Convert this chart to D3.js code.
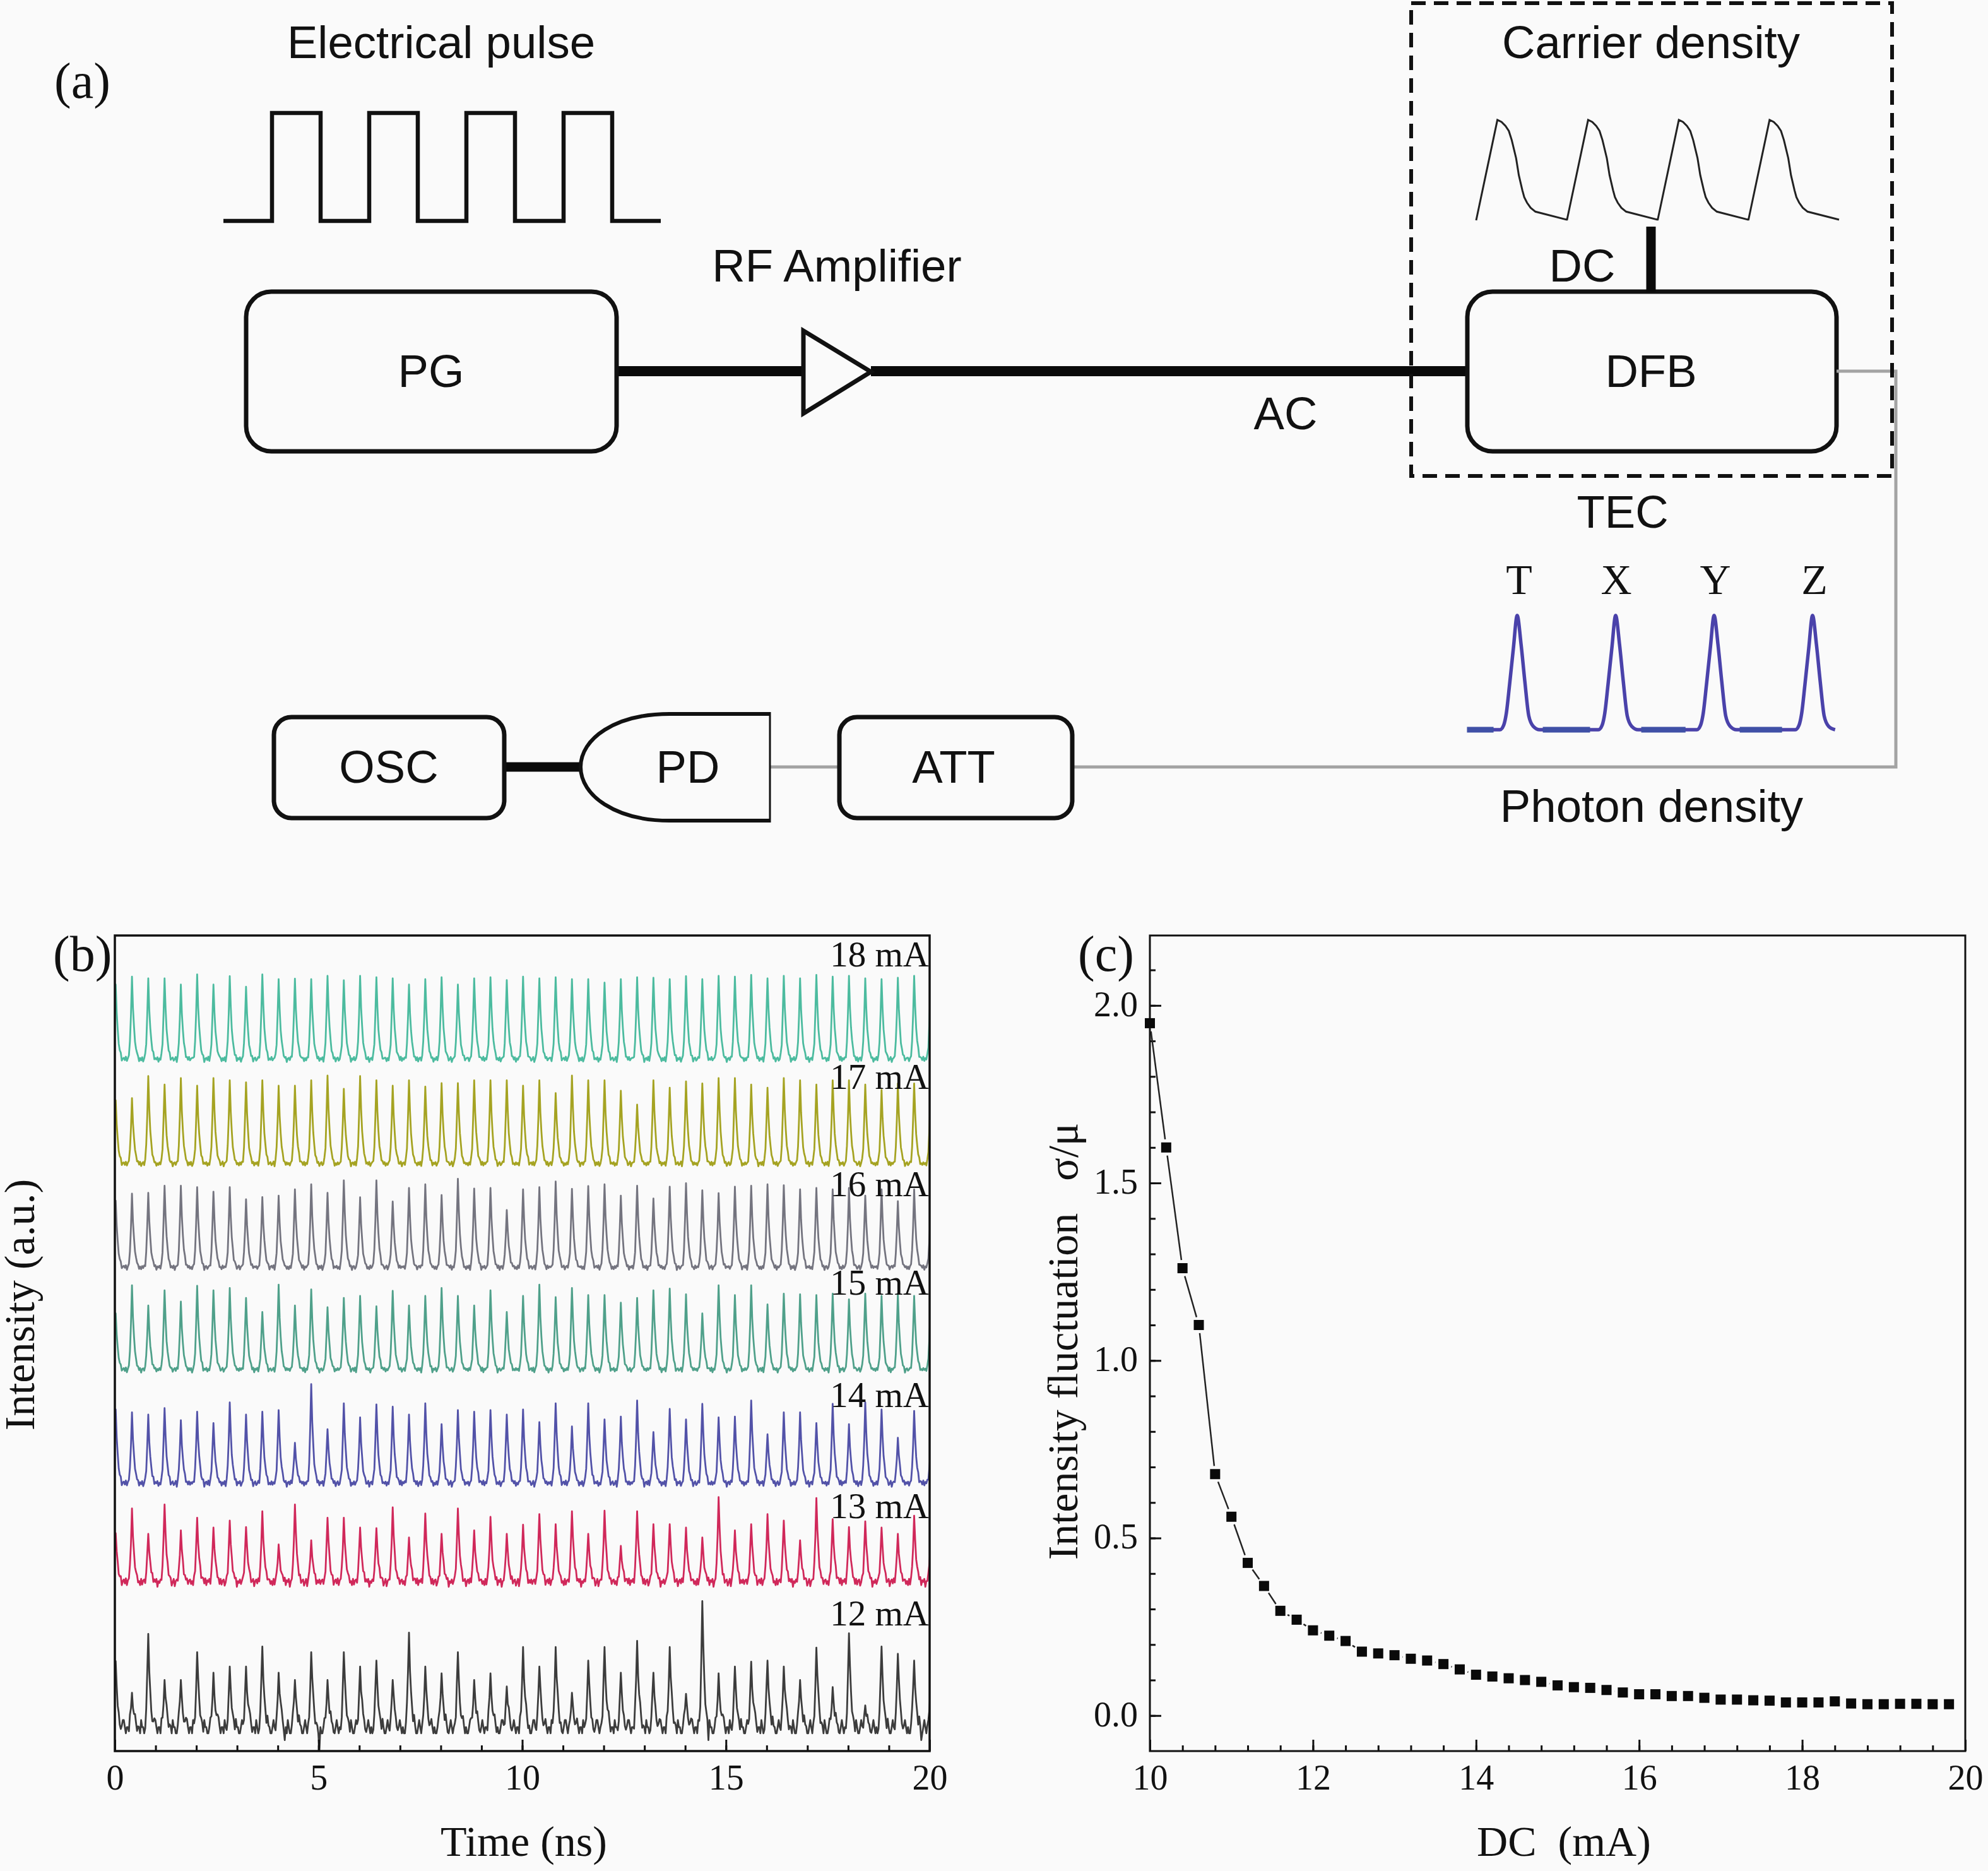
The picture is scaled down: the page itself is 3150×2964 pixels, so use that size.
<!DOCTYPE html>
<html><head><meta charset="utf-8">
<script src="https://cdn.jsdelivr.net/npm/d3@7"></script>
<style>
html,body{margin:0;padding:0;background:#fafafa}
svg{display:block}
.sans{font-family:"Liberation Sans",Arial,sans-serif;font-size:72.6px;fill:#111}
.serif{font-family:"Liberation Serif","Times New Roman",serif;fill:#111}
</style></head><body>
<script>
// ---------- panel (b): pulse peak heights above each trace's baseline (a.u.)
const peaks18=[263,291,285,285,263,299,263,293,255,299,282,284,282,294,278,294,289,285,263,282,289,263,285,289,279,291,285,289,282,282,270,282,289,287,282,293,282,294,291,297,285,294,285,297,291,294,285,282,287,294,240];
const peaks17=[224,232,310,280,303,276,303,295,288,295,276,276,295,312,265,310,295,276,295,273,285,285,295,295,295,276,295,250,312,295,295,258,209,295,269,291,284,303,303,280,269,303,295,280,295,295,280,261,284,284,220];
const peaks16=[235,260,263,288,288,283,267,283,240,248,253,275,293,263,307,247,307,232,280,293,255,313,278,280,202,275,283,303,277,287,293,253,288,243,285,297,272,262,285,288,293,290,275,280,275,280,253,275,233,275,175];
const peaks15=[198,298,226,280,240,296,280,288,253,203,300,226,283,220,253,260,223,278,226,260,288,260,226,280,203,260,300,256,288,263,263,236,253,280,286,266,198,298,263,298,230,268,266,263,268,248,268,260,268,260,200];
const peaks14=[260,250,242,265,222,252,212,285,242,252,258,142,350,190,282,232,278,270,242,282,208,258,252,258,242,260,215,282,200,282,225,235,292,180,262,225,280,232,235,292,172,250,250,212,280,208,285,260,160,255,100];
const peaks13=[170,258,168,272,180,225,190,215,192,248,130,272,145,225,225,190,188,262,155,240,168,258,180,228,168,200,238,202,248,168,250,125,248,202,202,190,155,298,180,202,238,215,145,295,220,192,212,190,168,232,120];
const peaks12=[234,122,331,167,167,266,193,215,215,286,193,167,266,167,266,215,236,167,335,215,191,266,167,191,144,284,215,284,122,236,284,193,306,193,284,118,447,191,215,232,236,215,167,282,142,333,77,286,260,236,130];
// baseline offsets of the stacked traces (a.u.)
const traceBase=[2457,2085,1718,1355,952,603,85];
const traceNames=["18 mA","17 mA","16 mA","15 mA","14 mA","13 mA","12 mA"];
const traceColors=["#4cbb9f","#a5a322","#74747f","#4fa08a","#5252a8","#d0285a","#3c3c3c"];
const labelBaselines=[1531,1725,1895,2051,2229,2405,2575];
// shape of one pulse on the 0.025 ns grid
const pulseOffsets=[-0.125,-0.1,-0.075,-0.05,-0.025,0,0.025,0.05,0.075,0.1,0.125,0.15,0.175,0.2,0.225,0.25];
const pulseShape=[0,0,0.05,0.2,0.55,1,0.62,0.38,0.22,0.12,0.06,0.02,0,0,0,0];
// baseline ripple (a.u.)
const ripple18=[3,-9,2,-6,5,-10,1,4,-7,-2,6,-12,0,3,-5,7,-8,2,-3,5,-11,1,-4,6,-6,0,3];
const ripple17=[2,-7,4,-4,6,-9,0,5,-6,-1,7,-10,2,4,-5,6,-7,3,-2,5,-8,1,-5,4,-3];
const ripple16=[1,-8,3,-4,5,-11,2,3,-7,0,5,-9,1,4,-3,6,-10,2,-2,4,-6,0,-8,5,-4,2,-1,3,-7];
const ripple15=[2,-6,4,-3,4,-12,1,3,-5,-1,5,-9,0,4,-6,6,-11,2,-2,5,-8,1,-4,4,-3];
const ripple14=[4,-10,2,-5,6,-12,0,5,-8,-3,7,-14,1,4,-6,8,-9,3,-2,6,-11,0,-6,5,-7,2,-3];
const ripple13=[6,-10,0,-14,8,-12,2,6,-16,-4,8,-18,0,6,-8,10,-14,3,-3,8,-20,0,-6,6,-10,2];
const ripple12=[0,0,-22,-22,0,25,0,-22,0,-22,-22,0,25,25,0,-22,0,0,-22,25,0,-22,-22,0,25,0,-22,0,0,-22,25];
const dips12T=[4.18,5.02,14.57,19.8];
const dips12V=[-46,-84,-46,-46];

// ---------- panel (c)
const dcValues=[10,10.2,10.4,10.6,10.8,11,11.2,11.4,11.6,11.8,12,12.2,12.4,12.6,12.8,13,13.2,13.4,13.6,13.8,14,14.2,14.4,14.6,14.8,15,15.2,15.4,15.6,15.8,16,16.2,16.4,16.6,16.8,17,17.2,17.4,17.6,17.8,18,18.2,18.4,18.6,18.8,19,19.2,19.4,19.6,19.8];
const fluctuation=[1.95,1.60,1.26,1.10,0.68,0.56,0.43,0.365,0.295,0.27,0.24,0.225,0.21,0.18,0.175,0.17,0.16,0.155,0.145,0.13,0.115,0.11,0.105,0.1,0.095,0.085,0.08,0.078,0.072,0.065,0.06,0.06,0.055,0.055,0.05,0.045,0.045,0.043,0.042,0.037,0.037,0.037,0.04,0.034,0.032,0.032,0.033,0.033,0.032,0.032];

// ---------- panel (a) waveforms
const elecLevels=[0,1,0,1,0,1,0,1,0,0];
const carrierPhase=[0,0.234,0.28,0.323,0.36,0.392,0.44,0.47,0.509,0.53,0.56,0.6,0.653,1];
const carrierLevel=[0,1,0.98,0.94,0.89,0.80,0.62,0.45,0.30,0.23,0.176,0.125,0.086,0.006];
const photonPhase=[-0.5,-0.175,-0.137,-0.111,-0.078,-0.039,0,0.039,0.078,0.118,0.163,0.229,0.5];
const photonLevel=[0,0,0.04,0.14,0.39,0.71,1,0.75,0.42,0.12,0.03,0,0];
const photonLabels=["T","X","Y","Z"];

const W=3150,H=2964;
const svg=d3.select("body").append("svg").attr("width",W).attr("height",H).attr("viewBox",[0,0,W,H]);
svg.append("rect").attr("width",W).attr("height",H).attr("fill","#fafafa");

function sans(t,x,y){svg.append("text").attr("class","sans").attr("x",x).attr("y",y).attr("text-anchor","middle").text(t);}
function serif(t,x,y,size,anchor,rot){const s=svg.append("text").attr("class","serif").attr("font-size",size).attr("text-anchor",anchor||"middle").text(t);
  if(rot) s.attr("transform",`translate(${x},${y}) rotate(${rot})`); else s.attr("x",x).attr("y",y); return s;}
function box(x0,y0,x1,y1,r){svg.append("rect").attr("x",x0).attr("y",y0).attr("width",x1-x0).attr("height",y1-y0).attr("rx",r).attr("ry",r).attr("fill","none").attr("stroke","#111").attr("stroke-width",7);}
function wire(pts,w,c){svg.append("path").attr("d",d3.line()(pts)).attr("fill","none").attr("stroke",c).attr("stroke-width",w).attr("stroke-linejoin","miter");}

// ---- panel (a)
const ex=d3.scaleLinear().domain([0,9]).range([354,1047]);
const ey=d3.scaleLinear().domain([0,1]).range([350,179]);
svg.append("path").attr("d",d3.line().x((d,i)=>ex(i)).y(d=>ey(d)).curve(d3.curveStepAfter)(elecLevels))
  .attr("fill","none").attr("stroke","#111").attr("stroke-width",6.5);

wire([[977,588],[1275,588]],16,"#0a0a0a");
wire([[1380,588],[2325,588]],16,"#0a0a0a");
svg.append("path").attr("d","M1273,524L1380,589L1273,655Z").attr("fill","none").attr("stroke","#111").attr("stroke-width",7);
box(390,462,977,715,40);
box(2325,462,2910,715,40);
wire([[2616,359],[2616,462]],15,"#0a0a0a");
wire([[2910,588],[3004,588],[3004,1215],[1697,1215]],5,"#a3a3a3");
wire([[1220,1215],[1330,1215]],5,"#a3a3a3");
wire([[799,1215],[920,1215]],15,"#0a0a0a");
box(434,1136,799,1296,28);
box(1330,1136,1699,1296,28);
svg.append("path").attr("d","M1220,1131L1061,1131C975,1131 920,1170 920,1215C920,1260 975,1300 1061,1300L1220,1300")
  .attr("fill","none").attr("stroke","#111").attr("stroke-width",6);
wire([[1220,1128],[1220,1303]],3,"#111");
svg.append("rect").attr("x",2236).attr("y",5).attr("width",762).attr("height",749).attr("fill","none")
  .attr("stroke","#111").attr("stroke-width",6).attr("stroke-dasharray","23 13");

const cx=d3.scaleLinear().domain([0,4]).range([2339,2914]);
const cy=d3.scaleLinear().domain([0,1]).range([349,190]);
const carrierPts=[];
d3.range(4).forEach(p=>carrierPhase.forEach((ph,i)=>carrierPts.push([p+ph,carrierLevel[i]])));
svg.append("path").attr("d",d3.line().x(d=>cx(d[0])).y(d=>cy(d[1]))(carrierPts))
  .attr("fill","none").attr("stroke","#222").attr("stroke-width",3);

const px=d3.scaleLinear().domain([0,1]).range([2404,2560]);
const py=d3.scaleLinear().domain([0,1]).range([1156,975]);
const photonPts=[];
d3.range(4).forEach(p=>photonPhase.forEach((ph,i)=>{const t=p+ph; if(t<=3.229) photonPts.push([t,photonLevel[i]]);}));
svg.append("path").attr("d",d3.line().x(d=>px(d[0])).y(d=>py(d[1])).curve(d3.curveMonotoneX)(photonPts)).attr("fill","none").attr("stroke","#4a42aa").attr("stroke-width",5.5);
[[-0.51,-0.24],[0.26,0.74],[1.26,1.71],[2.26,2.69]].forEach(s=>
  svg.append("line").attr("x1",px(s[0])).attr("x2",px(s[1])).attr("y1",py(0)).attr("y2",py(0)).attr("stroke","#3f50a6").attr("stroke-width",9));

sans("Electrical pulse",699,92);
sans("RF Amplifier",1326,446);
sans("PG",683,613);
sans("AC",2037,680);
sans("DC",2507,446);
sans("DFB",2616,613);
sans("Carrier density",2616,92);
sans("TEC",2571,836);
sans("Photon density",2617,1302);
sans("OSC",616,1240);
sans("PD",1090,1240);
sans("ATT",1511,1240);
serif("(a)",86,155,80,"start");
[2407,2561,2718,2875].forEach((x,i)=>serif(photonLabels[i],x,941,68));

// ---- panel (b)
const bL=182,bR=1473,bT=1482,bB=2774;
const xb=d3.scaleLinear().domain([0,20]).range([bL,bR]);
const yb=d3.scaleLinear().domain([0,2894]).range([bB,bT]);
svg.append("clipPath").attr("id","clipb").append("rect").attr("x",bL).attr("y",bT).attr("width",bR-bL).attr("height",bB-bT);
const allPeaks=[peaks18,peaks17,peaks16,peaks15,peaks14,peaks13,peaks12];
const allRipple=[ripple18,ripple17,ripple16,ripple15,ripple14,ripple13,ripple12];
const gb=svg.append("g").attr("clip-path","url(#clipb)");
allPeaks.forEach((peaks,ti)=>{
  const rip=allRipple[ti], pts=[];
  let j=0;
  peaks.forEach((h,k)=>{
    const tk=0.02+0.4*k;
    pulseOffsets.forEach((o,i)=>{
      const s=pulseShape[i];
      pts.push([tk+o,traceBase[ti]+h*s+rip[j%rip.length]*(1-s)]); j++;
    });
  });
  if(ti===6){dips12T.forEach((t,i)=>{const q=d3.bisector(d=>d[0]).center(pts,t);pts[q][1]=traceBase[6]+dips12V[i];});}
  gb.append("path").attr("d",d3.line().x(d=>xb(d[0])).y(d=>yb(d[1]))(pts)).attr("fill","none")
    .attr("stroke",traceColors[ti]).attr("stroke-width",2.8).attr("stroke-linejoin","round");
});
traceNames.forEach((n,i)=>serif(n,1472,labelBaselines[i],57,"end"));

function styleAxis(g,fs){g.select(".domain").remove();g.selectAll("line").attr("stroke","#111").attr("stroke-width",3);
  g.selectAll("text").attr("class","serif").attr("font-size",fs).attr("fill","#111");}
const bMinor=svg.append("g").attr("transform",`translate(0,${bB})`).call(d3.axisBottom(xb).tickValues(d3.range(0,21,1)).tickSize(-9).tickFormat(""));
styleAxis(bMinor,56);
const bMajor=svg.append("g").attr("transform",`translate(0,${bB})`).call(d3.axisBottom(xb).tickValues([0,5,10,15,20]).tickSize(-18).tickPadding(21));
styleAxis(bMajor,56);
svg.append("rect").attr("x",bL).attr("y",bT).attr("width",bR-bL).attr("height",bB-bT).attr("fill","none").attr("stroke","#111").attr("stroke-width",3.5);
serif("(b)",84,1538,80,"start");
serif("Time (ns)",830,2940,68);
serif("Intensity (a.u.)",54,2067,68,"middle",-90);

// ---- panel (c)
const cL=1822,cR=3114,cT=1482,cB=2774;
const xc=d3.scaleLinear().domain([10,20]).range([cL,cR]);
const yc=d3.scaleLinear().domain([-0.1,2.197]).range([cB,cT]);
const cMinX=svg.append("g").attr("transform",`translate(0,${cB})`).call(d3.axisBottom(xc).tickValues(d3.range(10,20.01,0.4)).tickSize(-9).tickFormat(""));
styleAxis(cMinX,56);
const cMajX=svg.append("g").attr("transform",`translate(0,${cB})`).call(d3.axisBottom(xc).tickValues([10,12,14,16,18,20]).tickSize(-18).tickPadding(21));
styleAxis(cMajX,56);
const cMinY=svg.append("g").attr("transform",`translate(${cL},0)`).call(d3.axisLeft(yc).tickValues(d3.range(0,2.19,0.1)).tickSize(-9).tickFormat(""));
styleAxis(cMinY,56);
const cMajY=svg.append("g").attr("transform",`translate(${cL},0)`).call(d3.axisLeft(yc).tickValues([0,0.5,1,1.5,2]).tickSize(-18).tickPadding(19).tickFormat(d3.format(".1f")));
styleAxis(cMajY,56);
cMajY.selectAll("text").attr("dy","0.29em");
svg.append("rect").attr("x",cL).attr("y",cT).attr("width",cR-cL).attr("height",cB-cT).attr("fill","none").attr("stroke","#111").attr("stroke-width",3);
// connecting line stops short of each symbol, as in the original plot
const lineGap=13;
const gc=svg.append("g");
fluctuation.slice(1).forEach((v,i)=>{
  const x0=xc(dcValues[i]),y0=yc(fluctuation[i]),x1=xc(dcValues[i+1]),y1=yc(v);
  const L=Math.hypot(x1-x0,y1-y0);
  if(L<=2*lineGap) return;
  const ux=(x1-x0)/L,uy=(y1-y0)/L;
  gc.append("line").attr("x1",x0+ux*lineGap).attr("y1",y0+uy*lineGap).attr("x2",x1-ux*lineGap).attr("y2",y1-uy*lineGap).attr("stroke","#222").attr("stroke-width",2.5);
});
svg.append("g").selectAll("rect").data(fluctuation).join("rect")
  .attr("x",(d,i)=>xc(dcValues[i])-8).attr("y",d=>yc(d)-8).attr("width",16).attr("height",16).attr("fill","#0a0a0a");
serif("(c)",1708,1538,80,"start");
serif("DC  (mA)",2478,2940,68).style("white-space","pre");
serif("Intensity fluctuation   σ/μ",1707,2125,68,"middle",-90).style("white-space","pre");
</script>
</body></html>
